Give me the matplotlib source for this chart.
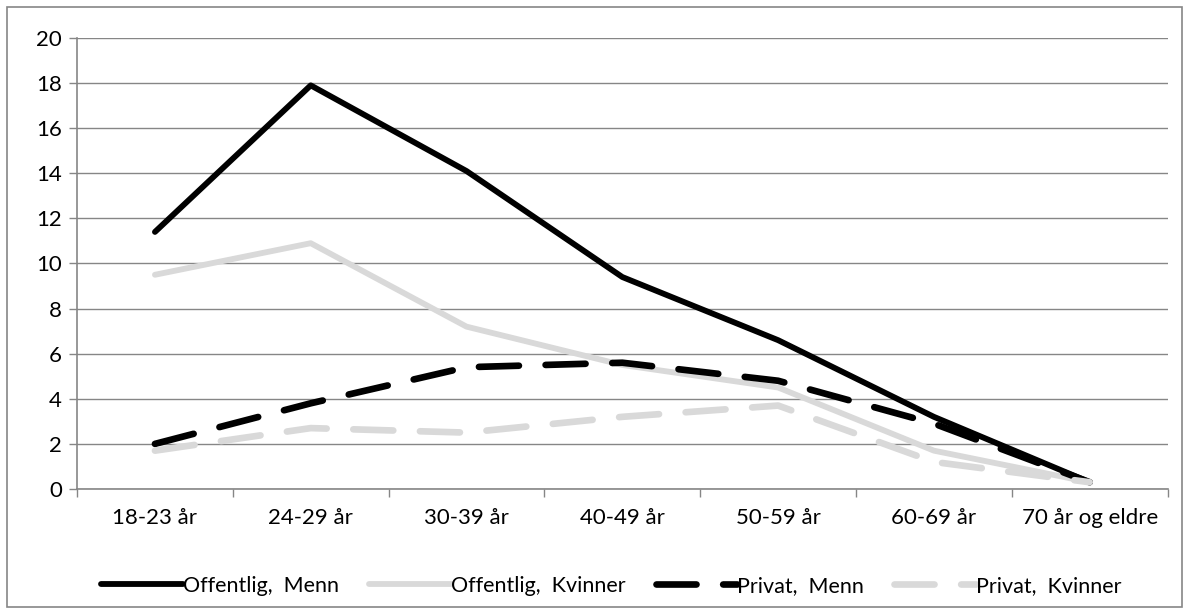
import matplotlib.pyplot as plt
import numpy as np

categories = ['18-23 år', '24-29 år', '30-39 år', '40-49 år', '50-59 år', '60-69 år', '70 år og eldre']
offentlig_menn = [11.4, 17.9, 14.1, 9.4, 6.6, 3.2, 0.3]
offentlig_kvinner = [9.5, 10.9, 7.2, 5.5, 4.5, 1.7, 0.3]
privat_menn = [2.0, 3.8, 5.4, 5.6, 4.8, 2.9, 0.3]
privat_kvinner = [1.7, 2.7, 2.5, 3.2, 3.7, 1.2, 0.3]
y_ticks = [0, 2, 4, 6, 8, 10, 12, 14, 16, 18, 20]

plt.rcParams['font.family'] = ['Lato', 'DejaVu Sans']

light = '#d9d9d9'
grid_col = '#868686'

fig = plt.figure(figsize=(11.89, 6.13), dpi=100)
ax = fig.add_axes([0.0648, 0.2023, 0.9172, 0.7357])

x = np.arange(len(categories))
ax.plot(x, offentlig_menn, color='black', lw=4.2, solid_capstyle='round', label='Offentlig,  Menn')
ax.plot(x, offentlig_kvinner, color=light, lw=4.2, solid_capstyle='round', label='Offentlig,  Kvinner')
ax.plot(x, privat_menn, color='black', lw=4.8, dashes=(6, 4), dash_capstyle='round', label='Privat,  Menn')
ax.plot(x, privat_kvinner, color=light, lw=4.8, dashes=(6, 4), dash_capstyle='round', label='Privat,  Kvinner')

ax.set_xlim(-0.5, len(categories) - 0.5)
ax.set_ylim(0, 20)
ax.set_yticks(y_ticks)
ax.set_xticks(x)
ax.set_xticklabels(categories)
ax.set_xticks(np.arange(-0.5, len(categories), 1.0), minor=True)
ax.tick_params(axis='x', which='major', length=0, pad=14, labelsize=16)
ax.tick_params(axis='x', which='minor', length=6, color=grid_col, width=1)
ax.tick_params(axis='y', length=6, color=grid_col, width=1, labelsize=16, pad=5)

ax.grid(axis='y', color=grid_col, lw=1)
ax.set_axisbelow(True)
for side in ['top', 'right']:
    ax.spines[side].set_visible(False)
for side in ['left', 'bottom']:
    ax.spines[side].set_color(grid_col)
    ax.spines[side].set_linewidth(1.2)

leg = ax.legend(loc='upper center', bbox_to_anchor=(0.49, -0.15), ncol=4, frameon=False,
                fontsize=15.5, handlelength=3.8, handletextpad=0.0, columnspacing=1.4)

# outer chart border
fig.patches.append(plt.Rectangle((0.006, 0.01), 0.988, 0.978, transform=fig.transFigure,
                                 fill=False, edgecolor=grid_col, lw=1.2))

fig.savefig('out.png', dpi=100)
